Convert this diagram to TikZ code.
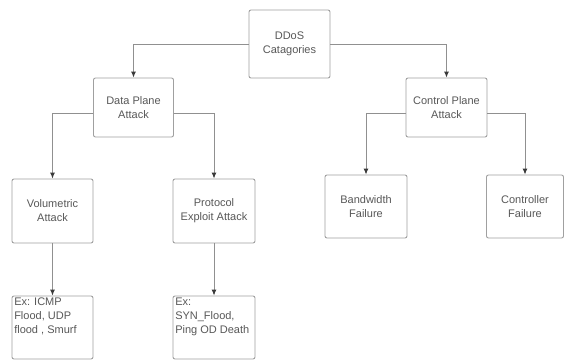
\documentclass[tikz,border=0pt]{standalone}
\usepackage{fontspec}
\setmainfont{Liberation Sans}
\usetikzlibrary{arrows.meta,calc}
\definecolor{txt}{HTML}{585858}
\definecolor{brd}{HTML}{A0A0A0}
\definecolor{lin}{HTML}{909090}
\definecolor{tip}{HTML}{3A3A3A}
\tikzset{
  box/.style={draw=brd, line width=0.9pt, rounded corners=2pt, inner sep=0pt,
    text=txt, align=center, font=\fontsize{11}{14}\selectfont},
  extxt/.style={inner sep=0pt, text=txt, align=left, anchor=north west,
    font=\fontsize{11}{14}\selectfont},
  arr/.style={draw=lin, line width=0.9pt, -{Latex[length=6pt,width=5pt,color=tip]}}
}
\begin{document}
\begin{tikzpicture}[x=1pt,y=-1pt]
\useasboundingbox[fill=white] (0,0) rectangle (564,361);
\node[box, minimum width=81, minimum height=68] (ddos) at (289.5,44) {DDoS\\Catagories};
\node[box, minimum width=80, minimum height=59] (dp) at (133.5,107.5) {Data Plane\\Attack};
\node[box, minimum width=81, minimum height=59] (cp) at (446.5,107.5) {Control Plane\\Attack};
\node[box, minimum width=81, minimum height=64] (vol) at (52.5,211) {Volumetric\\Attack};
\node[box, minimum width=82, minimum height=64] (pro) at (214,211) {Protocol\\Exploit Attack};
\node[box, minimum width=82, minimum height=63] (bw) at (366,206.5) {Bandwidth\\Failure};
\node[box, minimum width=77, minimum height=63] (ctl) at (525,206.5) {Controller\\Failure};
\node[box, minimum width=81, minimum height=63] (exA) at (52.5,327.5) {};
\node[box, minimum width=82, minimum height=63] (exB) at (214,327.5) {};
\node[extxt] (exAt) at ($(exA.north west)+(2.5,2)$) {Ex: ICMP\\Flood, UDP\\flood , Smurf};
\node[extxt] (exBt) at ($(exB.north west)+(2.5,2)$) {Ex:\\SYN\_Flood,\\Ping OD Death};
\draw[arr] (ddos.west) -| (dp.north);
\draw[arr] (ddos.east) -| (cp.north);
\draw[arr] ([yshift=-5.5pt]dp.west) -| (vol.north);
\draw[arr] ([yshift=-5.5pt]dp.east) -| (pro.north);
\draw[arr] ([yshift=-5.5pt]cp.west) -| (bw.north);
\draw[arr] ([yshift=-5.5pt]cp.east) -| (ctl.north);
\draw[arr] (vol.south) -- (exA.north);
\draw[arr] (pro.south) -- (exB.north);
\end{tikzpicture}
\end{document}
